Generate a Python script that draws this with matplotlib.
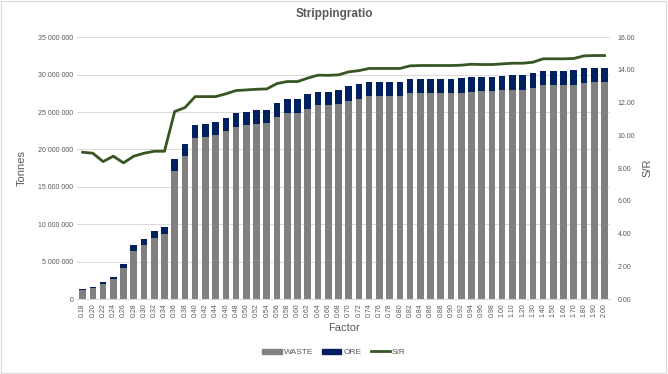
import matplotlib
matplotlib.use("Agg")
import matplotlib.pyplot as plt
from matplotlib.ticker import FuncFormatter, MultipleLocator
from matplotlib.patches import Patch, Rectangle
from matplotlib.lines import Line2D

plt.rcParams['font.family'] = ['Liberation Sans', 'DejaVu Sans']

factors = ["0.18", "0.20", "0.22", "0.24", "0.26", "0.28", "0.30", "0.32", "0.34", "0.36",
           "0.38", "0.40", "0.42", "0.44", "0.46", "0.48", "0.50", "0.52", "0.54", "0.56",
           "0.58", "0.60", "0.62", "0.64", "0.66", "0.68", "0.70", "0.72", "0.74", "0.76",
           "0.78", "0.80", "0.82", "0.84", "0.86", "0.88", "0.90", "0.92", "0.94", "0.96",
           "0.98", "1.00", "1.10", "1.20", "1.30", "1.40", "1.50", "1.60", "1.70", "1.80",
           "1.90", "2.00"]

# tonnes, millions
waste = [1.15, 1.45, 2.05, 2.67, 4.10, 6.42, 7.22, 8.16, 8.69, 17.15,
         19.10, 21.56, 21.70, 21.90, 22.46, 23.04, 23.20, 23.40, 23.50, 24.40,
         24.90, 24.90, 25.44, 25.90, 25.88, 26.07, 26.50, 26.74, 27.14, 27.14,
         27.14, 27.14, 27.50, 27.50, 27.50, 27.50, 27.50, 27.60, 27.70, 27.80,
         27.76, 27.94, 27.98, 27.98, 28.20, 28.57, 28.57, 28.57, 28.57, 28.90,
         29.00, 29.00]
total = [1.38, 1.65, 2.30, 2.94, 4.72, 7.18, 8.06, 9.09, 9.63, 18.68,
         20.75, 23.26, 23.40, 23.60, 24.20, 24.90, 25.05, 25.27, 25.27, 26.25,
         26.70, 26.70, 27.36, 27.70, 27.70, 27.95, 28.50, 28.70, 29.05, 29.05,
         29.05, 29.05, 29.40, 29.40, 29.40, 29.40, 29.40, 29.50, 29.64, 29.70,
         29.66, 29.85, 29.90, 29.99, 30.17, 30.50, 30.50, 30.50, 30.60, 30.88,
         30.88, 30.88]
ore = [t - w for t, w in zip(total, waste)]

sr = [8.97, 8.91, 8.40, 8.73, 8.32, 8.73, 8.91, 9.03, 9.03, 11.46,
      11.70, 12.37, 12.37, 12.37, 12.54, 12.74, 12.78, 12.82, 12.84, 13.17,
      13.29, 13.29, 13.50, 13.68, 13.67, 13.70, 13.88, 13.96, 14.09, 14.09,
      14.09, 14.09, 14.25, 14.27, 14.27, 14.27, 14.27, 14.29, 14.35, 14.33,
      14.33, 14.37, 14.41, 14.41, 14.47, 14.68, 14.68, 14.68, 14.70, 14.86,
      14.88, 14.88]

grey_txt = "#595959"
c_waste = "#808080"
c_ore = "#002060"
c_sr = "#375623"

fig = plt.figure(figsize=(6.68, 3.74), dpi=100)
fig.patches.append(Rectangle((0.002, 0.003), 0.995, 0.993, transform=fig.transFigure,
                             fill=False, edgecolor="#d9d9d9", lw=0.8))
ax = fig.add_axes([0.116, 0.2005, 0.7966, 0.700])

x = range(len(factors))
wt = [v * 1e6 for v in waste]
ot = [v * 1e6 for v in ore]
ax.bar(x, wt, width=0.65, color=c_waste, zorder=2)
ax.bar(x, ot, width=0.65, bottom=wt, color=c_ore, zorder=2)

ax.set_xlim(-0.5, len(factors) - 0.5)
ax.set_ylim(0, 35e6)
ax.yaxis.set_major_locator(MultipleLocator(5e6))
ax.yaxis.set_major_formatter(FuncFormatter(lambda v, p: f"{int(v):,}".replace(",", " ")))
ax.grid(axis="y", color="#d9d9d9", lw=0.7, zorder=0)
ax.set_xticks(list(x))
ax.set_xticklabels(factors, rotation=90)
ax.tick_params(axis="both", length=0, labelsize=5, colors=grey_txt, pad=3)
for s in ["top", "right", "left"]:
    ax.spines[s].set_visible(False)
ax.spines["bottom"].set_color("#d9d9d9")

ax2 = ax.twinx()
ax2.plot(list(x), sr, color=c_sr, lw=2.0, solid_joinstyle="round", zorder=3)
ax2.set_ylim(0, 16)
ax2.yaxis.set_major_locator(MultipleLocator(2))
ax2.yaxis.set_major_formatter(FuncFormatter(lambda v, p: f"{v:.2f}"))
ax2.tick_params(axis="y", length=0, labelsize=5, colors=grey_txt, pad=6)
for s in ax2.spines.values():
    s.set_visible(False)

ax.set_ylabel("Tonnes", fontsize=8, color=grey_txt, labelpad=8)
ax2.set_ylabel("S/R", fontsize=8, color=grey_txt, labelpad=5)
ax.set_xlabel("Factor", fontsize=8, color=grey_txt, labelpad=4)
fig.text(0.5, 0.962, "Strippingratio", ha="center", va="center",
         fontsize=8.5, fontweight="bold", color=grey_txt)

handles = [Patch(color=c_waste, label="WASTE"), Patch(color=c_ore, label="ORE"),
           Line2D([], [], color=c_sr, lw=2.0, label="S/R")]
fig.legend(handles=handles, loc="center", bbox_to_anchor=(0.5, 0.058), ncol=3,
           frameon=False, fontsize=6, labelcolor=grey_txt, handlelength=2.3,
           handleheight=0.6, columnspacing=1.1, handletextpad=0.25)

fig.savefig("out.png", dpi=100)
